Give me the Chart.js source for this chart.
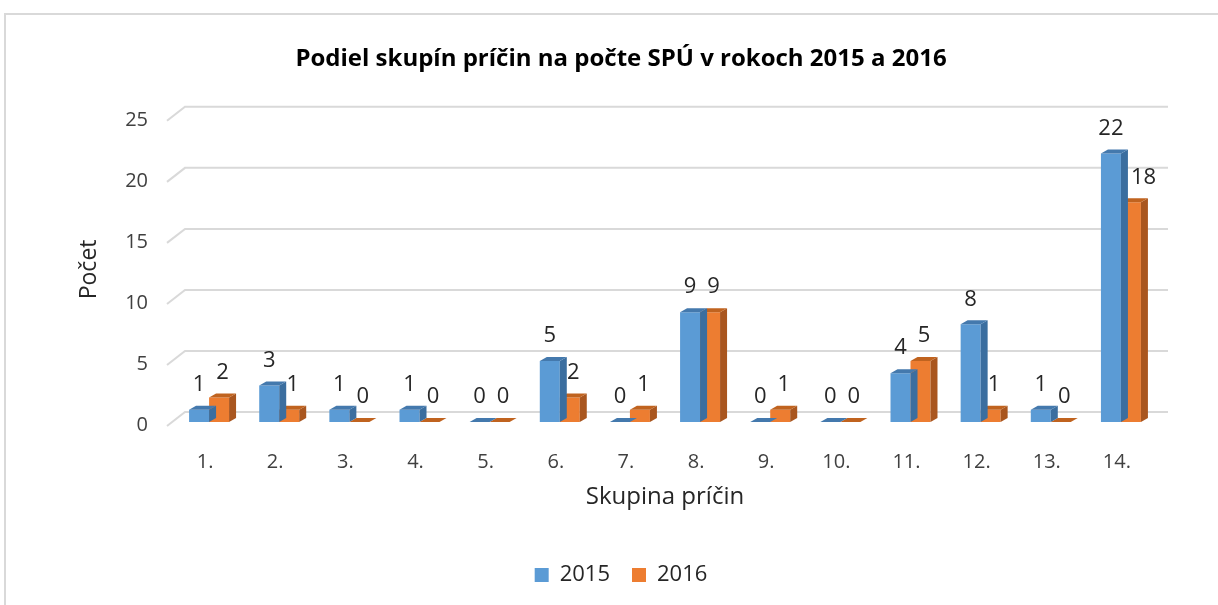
<!DOCTYPE html>
<html>
<head>
<meta charset="utf-8">
<script src="https://cdn.jsdelivr.net/npm/chart.js@4"></script>
<style>
  html, body { margin: 0; padding: 0; background: #fff; overflow: hidden; }
  canvas { display: block; }
</style>
</head>
<body>
<canvas id="chart" width="1218" height="605"></canvas>
<script>
const categories = ['1.', '2.', '3.', '4.', '5.', '6.', '7.', '8.', '9.', '10.', '11.', '12.', '13.', '14.'];
const values2015 = [1, 3, 1, 1, 0, 5, 0, 9, 0, 0, 4, 8, 1, 22];
const values2016 = [2, 1, 0, 0, 0, 2, 1, 9, 1, 0, 5, 1, 0, 18];
const seriesNames = ['2015', '2016'];
const yMax = 25;
const yStep = 5;

const FONT = '"Open Sans", Lato, sans-serif';
const DEPTH_X = 7, DEPTH_Y = 4;

// light frame around the whole chart
const framePlugin = {
  id: 'frame',
  beforeDraw(chart) {
    const c = chart.ctx;
    c.save();
    c.fillStyle = '#fff';
    c.fillRect(0, 0, chart.width, chart.height);
    c.strokeStyle = '#d9d9d9';
    c.lineWidth = 2;
    c.beginPath();
    c.moveTo(5, chart.height + 5);
    c.lineTo(5, 14);
    c.lineTo(chart.width + 5, 14);
    c.stroke();
    c.restore();
  }
};

// gridlines on the back wall with a short diagonal floor edge
const gridPlugin = {
  id: 'grid3d',
  beforeDatasetsDraw(chart) {
    const c = chart.ctx, area = chart.chartArea, y = chart.scales.y;
    c.save();
    c.strokeStyle = '#d9d9d9';
    c.lineWidth = 2;
    y.ticks.forEach(t => {
      const py = y.getPixelForValue(t.value);
      c.beginPath();
      c.moveTo(area.left - 7, py + 4);
      c.lineTo(area.left + 11, py - 10);
      c.lineTo(area.right + 12, py - 10);
      c.stroke();
    });
    c.restore();
  }
};

// side and top faces of each bar
const bar3dPlugin = {
  id: 'bar3d',
  afterDatasetDraw(chart, args) {
    const c = chart.ctx;
    const ds = chart.data.datasets[args.index];
    c.save();
    args.meta.data.forEach(el => {
      const p = el.getProps(['x', 'y', 'base', 'width'], true);
      const l = p.x - p.width / 2, r = p.x + p.width / 2;
      c.fillStyle = ds.sideColor;
      c.beginPath();
      c.moveTo(r, p.y);
      c.lineTo(r + DEPTH_X, p.y - DEPTH_Y);
      c.lineTo(r + DEPTH_X, p.base - DEPTH_Y);
      c.lineTo(r, p.base);
      c.closePath();
      c.fill();
      c.fillStyle = ds.topColor;
      c.beginPath();
      c.moveTo(l, p.y);
      c.lineTo(l + DEPTH_X, p.y - DEPTH_Y);
      c.lineTo(r + DEPTH_X, p.y - DEPTH_Y);
      c.lineTo(r, p.y);
      c.closePath();
      c.fill();
    });
    c.restore();
  }
};

// value labels above the bars
const labelPlugin = {
  id: 'valueLabels',
  afterDatasetsDraw(chart) {
    const c = chart.ctx;
    c.save();
    c.font = '22px ' + FONT;
    c.fillStyle = '#262626';
    c.textAlign = 'center';
    c.textBaseline = 'middle';
    const m0 = chart.getDatasetMeta(0);
    chart.data.datasets.forEach((ds, di) => {
      const meta = chart.getDatasetMeta(di);
      meta.data.forEach((el, i) => {
        const p = el.getProps(['x', 'y', 'width'], true);
        const txt = String(ds.data[i]);
        const w = c.measureText(txt).width;
        let lx = p.x + (di === 1 ? DEPTH_X / 2 : 0);
        const ly = p.y - 25;
        if (di === 1) {
          const b = m0.data[i].getProps(['x', 'y', 'width'], true);
          const bRight = b.x + b.width / 2 + DEPTH_X;
          if (b.y < ly + 12 && lx - w / 2 < bRight) lx = bRight + 3 + w / 2;
        }
        c.fillText(txt, lx, ly);
      });
    });
    c.restore();
  }
};

new Chart(document.getElementById('chart'), {
  type: 'bar',
  data: {
    labels: categories,
    datasets: [
      { label: seriesNames[0], data: values2015, backgroundColor: '#5b9bd5', sideColor: '#3b6e9f', topColor: '#4479ad' },
      { label: seriesNames[1], data: values2016, backgroundColor: '#ed7d31', sideColor: '#a9561f', topColor: '#c0631f' }
    ]
  },
  options: {
    responsive: false,
    animation: false,
    devicePixelRatio: 1,
    datasets: { bar: { categoryPercentage: 0.57, barPercentage: 1.0 } },
    layout: { padding: { left: 24, right: 0, top: 0, bottom: 9 } },
    scales: {
      x: {
        grid: { display: false, drawTicks: false },
        border: { display: false },
        ticks: { font: { size: 20, family: FONT }, color: '#404040', padding: 28, labelOffset: -4, maxRotation: 0 },
        title: { display: true, text: 'Skupina príčin', font: { size: 24, family: FONT }, color: '#262626', padding: { top: 30, bottom: 30 } },
        afterFit(s) { s.height = 120; }
      },
      y: {
        min: 0, max: yMax,
        grid: { display: false, drawTicks: false },
        border: { display: false },
        ticks: { stepSize: yStep, font: { size: 20, family: FONT }, color: '#404040', padding: 26, labelOffset: 3 },
        title: { display: true, text: 'Počet', font: { size: 23, family: FONT }, color: '#262626', padding: { top: 52, bottom: 0 } },
        afterFit(s) { s.width = 150; }
      },
      // empty right-hand axis that only reserves room for the depth of the chart
      yRight: {
        type: 'linear',
        position: 'right',
        grid: { display: false, drawTicks: false },
        border: { display: false },
        ticks: { display: false },
        afterFit(s) { s.width = 62; }
      }
    },
    plugins: {
      title: {
        display: true,
        text: 'Podiel skupín príčin na počte SPÚ v rokoch 2015 a 2016',
        font: { size: 24, weight: 'bold', family: FONT },
        color: '#000',
        padding: { top: 45, bottom: 43 }
      },
      legend: {
        position: 'bottom',
        labels: { boxWidth: 14, boxHeight: 14, font: { size: 22, family: FONT }, color: '#262626', padding: 22 }
      },
      tooltip: { enabled: false }
    }
  },
  plugins: [framePlugin, gridPlugin, bar3dPlugin, labelPlugin]
});
</script>
</body>
</html>
